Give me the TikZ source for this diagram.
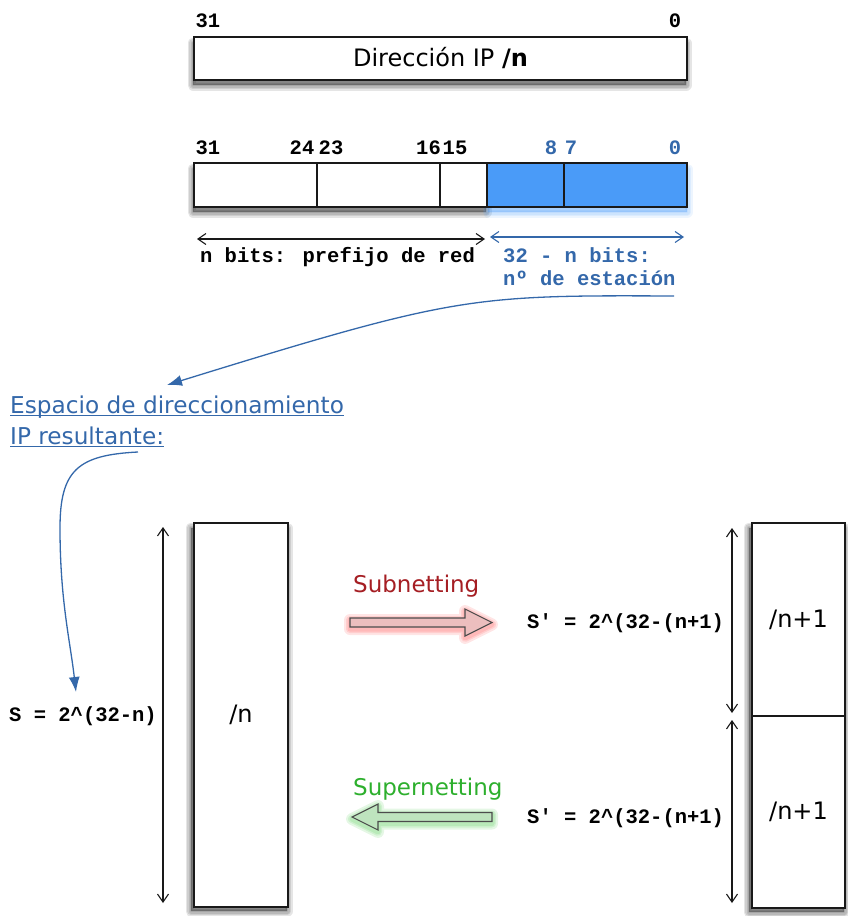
\documentclass[tikz,border=0pt]{standalone}
\usepackage{fontspec}
\setmainfont{DejaVu Sans}
\newfontfamily\monofam{Liberation Mono}
\usetikzlibrary{arrows.meta}
\definecolor{tblue}{RGB}{52,104,170}
\definecolor{fblue}{RGB}{74,155,248}
\definecolor{sred}{RGB}{165,30,35}
\definecolor{sgreen}{RGB}{45,175,45}
\definecolor{ink}{RGB}{25,25,25}
\definecolor{pinkf}{RGB}{236,190,190}
\definecolor{greenf}{RGB}{190,228,190}
% soft drop shadow: x1 y1 x2 y2 colour
\newcommand\softshade[5]{%
  \foreach \w in {11,8,5,2}
    \filldraw[#5, opacity=0.10, line width=\w pt, line join=round] (#1,#2) rectangle (#3,#4);}
\tikzset{
  box/.style={draw=ink, line width=1.3pt, fill=white, inner sep=0pt, outer sep=0pt, anchor=north west},
  bits/.style={font=\monofam\bfseries\fontsize{20.5}{23}\selectfont, inner sep=0pt, anchor=base},
  lbl/.style={font=\fontsize{24}{28}\selectfont},
  espl/.style={font=\fontsize{23.2}{27}\selectfont, text=tblue, anchor=base west, inner sep=0pt},
  dim/.style={line width=1.1pt, {Straight Barb[length=8pt,width=11pt]}-{Straight Barb[length=8pt,width=11pt]}},
  curve/.style={tblue, line width=1.3pt, -{Latex[length=15pt,width=11pt]}},
  fat/.style={draw=black!70, line width=1.1pt},
}
\begin{document}
\begin{tikzpicture}[x=1pt,y=-1pt]
\useasboundingbox (0,0) rectangle (848,916);

% ---- shadows (drawn first)
\softshade{193}{43}{686}{85}{black}
\softshade{193}{169}{486}{212}{black}
\softshade{488}{169}{687}{212}{fblue}
\softshade{191}{528}{287}{911}{black}
\softshade{749}{528}{844}{912}{black}

% ---- top address box
\node[box, minimum width=493pt, minimum height=43pt, lbl] (ip) at (194,37) {Dirección IP \textbf{/n}};
\node[bits] (t31) at (208,27) {31};
\node[bits] (t0) at (675,27) {0};

% ---- split box
\node[box, minimum width=123pt, minimum height=44pt] (s1) at (194,163) {};
\node[box, minimum width=123pt, minimum height=44pt] (s2) at (317,163) {};
\node[box, minimum width=47pt, minimum height=44pt] (s3) at (440,163) {};
\node[box, fill=fblue, minimum width=77pt, minimum height=44pt] (s4) at (487,163) {};
\node[box, fill=fblue, minimum width=123pt, minimum height=44pt] (s5) at (564,163) {};

\node[bits] (b31) at (208,154) {31};
\node[bits] (b24) at (302,154) {24};
\node[bits] (b23) at (331,154) {23};
\node[bits] (b16) at (428.5,154) {16};
\node[bits] (b15) at (455,154) {15};
\node[bits, text=tblue] (b8) at (551,154) {8};
\node[bits, text=tblue] (b7) at (571,154) {7};
\node[bits, text=tblue] (b0) at (675,154) {0};

% ---- dimension arrows
\coordinate (na) at (197,239);
\coordinate (nb) at (485,239);
\coordinate (ha) at (490,237);
\coordinate (hb) at (684,237);
\draw[dim, ink] (na) -- (nb);
\draw[dim, tblue] (ha) -- (hb);

\node[bits] (pref) at (337.5,262) {n bits: prefijo de red};
\node[bits, anchor=base west, text=tblue] (host1) at (503,262) {32 - n bits:};
\node[bits, anchor=base west, text=tblue] (host2) at (503,285) {nº de estación};

% ---- resulting space label
\node[espl] (esp1) at (10,413) {Espacio de direccionamiento};
\node[espl] (esp2) at (10,444) {IP resultante:};
\draw[tblue, line width=1pt] ([yshift=-2.5pt]esp1.base west) -- ([yshift=-2.5pt]esp1.base east);
\draw[tblue, line width=1pt] ([yshift=-2.5pt]esp2.base west) -- ([yshift=-2.5pt]esp2.base east);

% ---- blue curved connectors
\coordinate (c1s) at (674,296);
\coordinate (c1e) at (167,385);
\draw[curve] (c1s) .. controls (470,295) and (455,296) .. (c1e);
\coordinate (c2s) at (138,452);
\coordinate (c2m) at (60,528);
\coordinate (c2e) at (76,692);
\draw[curve] (c2s) .. controls (78,455) and (60,470) .. (c2m) .. controls (60,600) and (70,640) .. (c2e);

% ---- /n block
\node[box, minimum width=94pt, minimum height=384pt, lbl] (nblk) at (194,523) {/n};
\coordinate (va) at (163,527);
\coordinate (vb) at (163,903);
\draw[dim, ink] (va) -- (vb);
\node[bits, anchor=base west] (S) at (9,721) {S = 2\textasciicircum(32-n)};

% ---- /n+1 blocks
\node[box, minimum width=93pt, minimum height=193pt, lbl] (r1) at (752,523) {/n+1};
\node[box, minimum width=93pt, minimum height=192pt, lbl] (r2) at (752,716) {/n+1};
\coordinate (ra) at (732,528);
\coordinate (rb) at (732,713);
\coordinate (rc) at (732,720);
\coordinate (rd) at (732,903);
\draw[dim, ink] (ra) -- (rb);
\draw[dim, ink] (rc) -- (rd);
\node[bits, anchor=base west] (sp1) at (527,628) {S{\char"27} = 2\textasciicircum(32-(n+1)};
\node[bits, anchor=base west] (sp2) at (527,823) {S{\char"27} = 2\textasciicircum(32-(n+1)};

% ---- subnetting / supernetting
\node[font=\fontsize{23}{27}\selectfont, text=sred, anchor=base west, inner sep=0pt] (sub) at (353,592) {Subnetting};
\node[font=\fontsize{23}{27}\selectfont, text=sgreen, anchor=base west, inner sep=0pt] (sup) at (353,795) {Supernetting};
\foreach \w in {12,8,5}
  \draw[red, opacity=0.10, line width=\w pt, line join=round]
    (350,620) -- (465,620) -- (465,611) -- (492,624.5) -- (465,638) -- (465,629) -- (350,629) -- cycle;
\filldraw[fat, fill=pinkf]
  (350,618) -- (465,618) -- (465,609) -- (492,622.5) -- (465,636) -- (465,627) -- (350,627) -- cycle;
\foreach \w in {12,8,5}
  \draw[green!70!black, opacity=0.10, line width=\w pt, line join=round]
    (492,814.5) -- (378,814.5) -- (378,806) -- (352,819) -- (378,832) -- (378,823.5) -- (492,823.5) -- cycle;
\filldraw[fat, fill=greenf]
  (492,812.5) -- (378,812.5) -- (378,804) -- (352,817) -- (378,830) -- (378,821.5) -- (492,821.5) -- cycle;
\end{tikzpicture}
\end{document}
